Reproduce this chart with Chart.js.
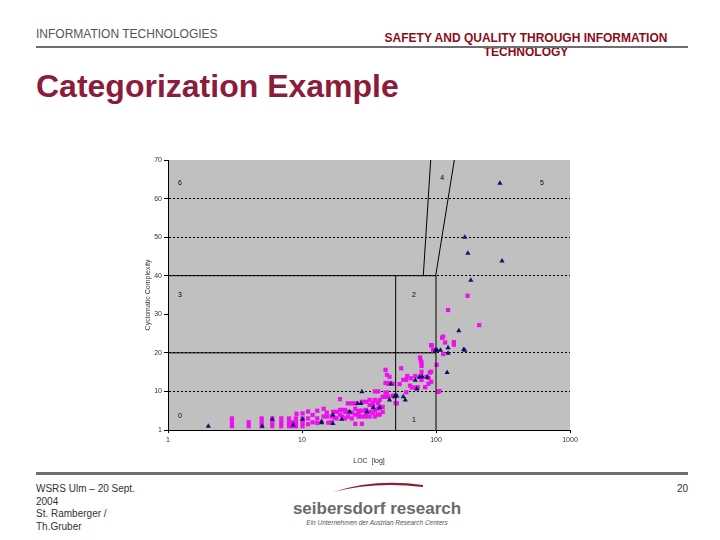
<!DOCTYPE html>
<html><head><meta charset="utf-8">
<script src="https://cdn.jsdelivr.net/npm/chart.js@4.4.1/dist/chart.umd.min.js"></script>
<style>
body{margin:0;width:720px;height:540px;background:#fff;position:relative;overflow:hidden;font-family:"Liberation Sans",Arial,sans-serif;}
.abs{position:absolute;white-space:nowrap;}
#wrap{position:absolute;left:120px;top:150px;width:470px;height:315px;}
</style></head><body>
<div class="abs" style="left:36px;top:27px;font-size:12px;color:#555;">INFORMATION TECHNOLOGIES</div>
<div class="abs" style="left:346px;top:31px;width:360px;text-align:center;font-size:12px;font-weight:bold;color:#8b0d1a;line-height:14px;">SAFETY AND QUALITY THROUGH INFORMATION<br>TECHNOLOGY</div>
<div class="abs" style="left:36px;top:46px;width:652px;height:2px;background:#6e6e6e;"></div>
<div class="abs" style="left:36px;top:68px;font-size:32px;font-weight:bold;color:#8c1c3c;">Categorization Example</div>

<div id="wrap"><canvas id="c" width="470" height="315"></canvas></div>

<div class="abs" style="left:36px;top:472px;width:652px;height:3px;background:#6e6e6e;"></div>
<div class="abs" style="left:36px;top:483px;font-size:10px;color:#333;line-height:12.5px;">WSRS Ulm – 20 Sept.<br>2004<br>St. Ramberger /<br>Th.Gruber</div>
<div class="abs" style="left:660px;top:483px;width:28px;text-align:right;font-size:10px;color:#333;">20</div>
<svg class="abs" style="left:320px;top:476px;" width="120" height="20">
<path d="M13 16 Q 55 2 103 9 L 103 11 Q 55 5 13 16 Z" fill="#8a2030"/>
</svg>
<div class="abs" style="left:277px;top:499px;width:200px;text-align:center;font-size:17px;font-weight:bold;color:#6a6a6a;">seibersdorf research</div>
<div class="abs" style="left:277px;top:519px;width:200px;text-align:center;font-size:6.5px;font-style:italic;color:#555;">Ein Unternehmen der Austrian Research Centers</div>

<script>
// ---- data ----
const xTickValues = [1, 10, 100, 1000];
const xTickLabels = ["1", "10", "100", "1000"];
const yTickValues = [0, 10, 20, 30, 40, 50, 60, 70];
const yTickLabels = ["1", "10", "20", "30", "40", "50", "60", "70"];
const dottedGridValues = [10, 20, 40, 50, 60];

// magenta squares: LOC and cyclomatic complexity
const sqLoc = [3,3,3, 4,4, 5,5,5, 6,6,6, 7,7,7, 8,8,8, 8.4,8.4, 9,9,9,9.1,
  10.1,10.1,10.1,10.1, 11.1,11.1,11.1, 12,12, 13,13,13, 14.5,14.5, 15.3,15.3, 15.7,
  16.6,16.6, 17.1,17.5, 18.1,18.1, 19.2,19.2,19.2, 20,20, 21,21,21, 22,22,22,
  23.5,23.5,23.5, 25,25,25,25, 26.5,26.5,26.5, 28,28,28,28, 30,30,30,30,
  32,32,32,32, 34,34,34, 35,35,35,35, 37,37,37,37, 38,38,38, 40,40,40,
  42,42,42,42, 43,43, 44,44, 45,45, 47.5,47.5, 50,50, 51, 53.5, 55, 57, 60,60, 61,
  64, 65, 66, 70,70, 73, 76, 77,77, 78,78,78,78, 83, 85, 88,88, 90, 92,92,92, 93, 95,
  101, 104, 106, 111, 113,113, 117, 123, 136,136, 172, 210];
const sqCC = [1,2,3, 1,2, 1,2,3, 1,2,3, 1,2,3, 1,2,3, 1,2, 1,2,3,4.2,
  1,2,3,4.3, 1.5,3,4.8, 2,3.9, 1.8,3,5, 3.5,5.5, 3.5,4.5, 1.9,
  2,3.5, 4.7,3.2, 4.7,3, 5.2,4,8, 5.2,3.5, 5.2,4.7,3, 6.9,4.7,3.5,
  6.9,4.5,3, 6.9,5.5,4,1.6, 5,3.5,4.5, 7.3,5,3.5,1.6, 7.3,5.2,4,3.5,
  7.8,6.5,4.7,3.5, 7,6,4.5, 10,7.8,5,3.5, 10,7,5.5,4, 7.8,6,4, 8.6,6,4.7,
  15.6,12.2,9.7,8.6, 14.3,9.7, 8.6,12, 13.8,12.2, 8.9,12, 8.9,7, 6.9, 11.9, 16, 13, 13,9.8, 14,
  11.5, 13.4, 11, 14,11, 11.1, 18.8, 18,14, 17.5,16.6,15.1,13, 11.1, 13.8, 13.5,12, 14.9, 12.5,15.1,22, 21.9, 20.8,
  16.9, 9.9, 10.1, 23.9, 19.7,24.2, 22.7, 31.1, 22.1,22.8, 34.8, 27.2];

// navy triangles: LOC and cyclomatic complexity
const triLoc = [2, 5.05, 6, 8.6, 10.1, 14, 14, 17, 17, 19.8, 22.7, 26, 27.5, 28, 30.5, 34, 38,
  45, 46, 49, 51, 57, 59, 70, 72, 75, 79, 86, 99, 102, 108, 121, 123, 123, 148, 161, 164,
  164, 173, 182, 300, 311];
const triCC = [1, 1, 2.8, 1.3, 2.8, 1.9, 2.2, 3.9, 1.7, 2.8, 4.7, 6.9, 6.9, 9.9, 4.7, 5.8, 5.8,
  7.8, 11.9, 8.6, 8.8, 8.6, 7.8, 12.9, 10.6, 13.7, 13.8, 13.7, 20.7, 20.7, 20.7, 14.9, 21.3, 19.9, 25.7, 20.9, 20.7,
  50, 45.8, 38.8, 64, 43.8];

// category boundary lines (LOC, CC pairs)
const boundH40Loc = [1, 100], boundH40CC = [40, 40];
const boundH20Loc = [1, 100], boundH20CC = [20, 20];
const boundV50Loc = [50, 50], boundV50CC = [0, 40];
const boundV100Loc = [100, 100], boundV100CC = [0, 40];
const slantALoc = [80.4, 91.3], slantACC = [40, 70];
const slantBLoc = [99.5, 137], slantBCC = [40, 70];

// region labels
const regionText = ["6", "4", "5", "3", "2", "0", "1"];
const regionLoc = [1.23, 111, 618, 1.23, 68.5, 1.23, 68.5];
const regionCC = [64, 65.3, 64, 35, 35, 3.6, 2.6];

const pts = (xs, ys) => xs.map((x, i) => ({x: x, y: ys[i]}));
const lineDs = (xs, ys) => ({type: 'line', data: pts(xs, ys), borderColor: '#000', borderWidth: 1,
  pointRadius: 0, showLine: true, fill: false, order: 0, tension: 0});

const bgPlugin = {
  id: 'plotBg',
  beforeDraw(chart) {
    const a = chart.chartArea, ctx = chart.ctx;
    ctx.save(); ctx.fillStyle = '#c0c0c0';
    ctx.fillRect(a.left, a.top, a.right - a.left, a.bottom - a.top);
    ctx.restore();
  }
};
const labelPlugin = {
  id: 'regionLabels',
  afterDatasetsDraw(chart) {
    const ctx = chart.ctx, xs = chart.scales.x, ys = chart.scales.y;
    ctx.save();
    ctx.fillStyle = '#000'; ctx.font = '7px "Liberation Sans", Arial, sans-serif';
    ctx.textAlign = 'center'; ctx.textBaseline = 'middle';
    regionText.forEach((t, i) => ctx.fillText(t, xs.getPixelForValue(regionLoc[i]), ys.getPixelForValue(regionCC[i])));
    ctx.restore();
  }
};

new Chart(document.getElementById('c'), {
  type: 'scatter',
  data: {
    datasets: [
      lineDs(boundH40Loc, boundH40CC), lineDs(boundH20Loc, boundH20CC),
      lineDs(boundV50Loc, boundV50CC), lineDs(boundV100Loc, boundV100CC),
      lineDs(slantALoc, slantACC), lineDs(slantBLoc, slantBCC),
      {label: 'tri', data: pts(triLoc, triCC), pointStyle: 'triangle', pointRadius: 3,
        backgroundColor: '#10106a', borderWidth: 0, order: 1},
      {label: 'sq', data: pts(sqLoc, sqCC), pointStyle: 'rect', pointRadius: 3,
        backgroundColor: '#ee10ee', borderWidth: 0, order: 2}
    ]
  },
  options: {
    responsive: false, animation: false,
    layout: {padding: {top: 10, right: 20, left: 0, bottom: 0}},
    plugins: {legend: {display: false}, tooltip: {enabled: false}},
    scales: {
      x: {
        type: 'logarithmic', min: 1, max: 1000,
        afterBuildTicks: s => { s.ticks = xTickValues.map(v => ({value: v})); },
        afterFit: s => { s.height = 35; },
        ticks: {callback: (v, i) => xTickLabels[i], font: {size: 7, family: '"Liberation Sans", Arial'}, color: '#333', padding: 3, maxRotation: 0, autoSkip: false},
        grid: {drawOnChartArea: false, tickLength: 3, color: '#000'},
        border: {color: '#000', width: 1},
        title: {display: true, text: 'LOC  [log]', font: {size: 7, family: '"Liberation Sans", Arial'}, color: '#333', padding: {top: 8, bottom: 0}}
      },
      y: {
        min: 0, max: 70,
        afterBuildTicks: s => { s.ticks = yTickValues.map(v => ({value: v})); },
        afterFit: s => { s.width = 48; },
        ticks: {callback: (v, i) => yTickLabels[i], font: {size: 7, family: '"Liberation Sans", Arial'}, color: '#333', padding: 2},
        grid: {
          color: c => dottedGridValues.includes(c.tick.value) ? '#000' : 'rgba(0,0,0,0)',
          tickColor: '#000', tickLength: 4, lineWidth: 1
        },
        border: {color: '#000', width: 1, dash: [2, 2]},
        title: {display: true, text: 'Cyclomatic Complexity', font: {size: 7, family: '"Liberation Sans", Arial'}, color: '#333', padding: {top: 24, bottom: 0}}
      }
    }
  },
  plugins: [bgPlugin, labelPlugin]
});
</script>
</body></html>
